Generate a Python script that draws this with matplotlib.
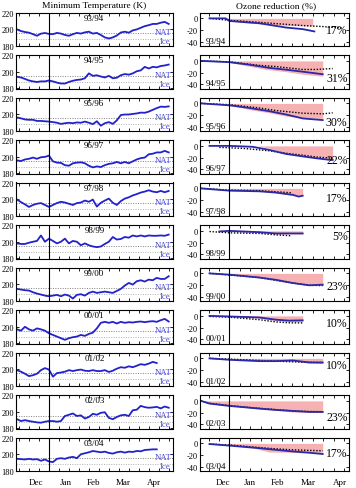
import numpy as np
import matplotlib
matplotlib.use("Agg")
import matplotlib.pyplot as plt

plt.rcParams['font.family'] = ['Liberation Serif', 'DejaVu Serif']
plt.rcParams['axes.unicode_minus'] = False

nan = np.nan

# Winters and ozone loss labels
winters = ['93/94', '94/95', '95/96', '96/97', '97/98', '98/99',
           '99/00', '00/01', '01/02', '02/03', '03/04']
ozone_loss = ['17%', '31%', '30%', '22%', '17%', '5%',
              '23%', '10%', '10%', '23%', '17%']

months = ['Dec', 'Jan', 'Feb', 'Mar', 'Apr']

# Minimum temperature (K), days relative to 1 Jan, 4 day steps
temp_days = np.arange(-32, 124, 4)
temp_min = [
    [199.8, 197.8, 196.6, 195.8, 194.0, 192.0, 194.6, 195.4, 194.3, 194.0, 195.5, 194.7, 193.0,
     192.0, 194.0, 195.5, 194.7, 196.2, 197.0, 194.7, 195.5, 193.0, 190.0, 188.7, 190.0, 192.3,
     196.0, 197.0, 195.8, 198.6, 199.8, 201.8, 203.8, 205.0, 206.5, 206.5, 208.0, 209.0, 206.5],
    [193.8, 193.0, 191.2, 189.3, 188.2, 187.5, 188.2, 188.2, 189.3, 188.2, 186.7, 185.6, 185.6,
     187.5, 189.0, 190.0, 190.5, 192.0, 198.0, 195.0, 195.7, 194.2, 193.0, 195.0, 192.0, 192.7,
     195.7, 197.2, 196.4, 198.0, 200.6, 201.7, 206.0, 204.0, 206.0, 205.4, 207.0, 207.7, 208.8],
    [196.0, 195.0, 193.6, 193.2, 193.2, 191.8, 191.8, 191.4, 191.0, 190.4, 189.6, 188.2, 189.0,
     189.6, 189.0, 190.0, 189.6, 191.0, 189.6, 187.9, 191.4, 186.0, 189.0, 190.4, 188.2, 192.5,
     199.0, 199.7, 199.7, 200.4, 201.0, 202.0, 201.8, 203.2, 205.4, 207.5, 209.3, 209.0, 209.6],
    [195.5, 194.8, 196.7, 197.5, 199.0, 197.5, 199.4, 199.8, 201.4, 194.4, 192.8, 192.5, 189.7,
     189.0, 192.0, 192.8, 193.2, 192.0, 189.0, 187.0, 188.2, 187.4, 189.7, 191.3, 192.0, 193.6,
     192.0, 193.6, 192.0, 194.4, 196.7, 198.3, 199.0, 203.0, 203.7, 205.3, 205.3, 207.2, 205.3],
    [199.6, 196.5, 193.7, 190.6, 193.0, 194.5, 195.3, 193.0, 190.6, 193.0, 195.3, 196.9, 196.0,
     194.5, 193.0, 195.3, 196.0, 198.4, 196.9, 199.6, 191.0, 195.7, 198.4, 200.8, 195.7, 193.0,
     197.7, 200.8, 202.4, 204.7, 206.3, 208.2, 209.4, 211.0, 209.4, 208.6, 210.2, 208.6, 210.2],
    [198.0, 197.3, 197.3, 198.8, 200.0, 201.0, 207.7, 200.0, 203.8, 201.0, 198.0, 200.0, 203.8,
     198.0, 201.0, 200.0, 195.7, 198.0, 195.7, 194.2, 193.4, 194.2, 197.3, 200.0, 205.8, 202.7,
     203.4, 205.8, 205.0, 207.7, 206.5, 207.7, 206.5, 207.7, 207.3, 207.3, 207.7, 207.3, 208.8],
    [194.3, 193.5, 192.7, 192.3, 190.2, 188.6, 187.4, 186.1, 185.3, 186.1, 187.0, 185.3, 187.4,
     186.1, 182.5, 187.0, 187.8, 186.1, 189.4, 191.0, 189.4, 190.2, 191.0, 190.2, 189.4, 191.8,
     194.3, 198.4, 201.6, 199.6, 203.7, 204.9, 203.3, 205.7, 204.9, 207.8, 206.5, 206.5, 209.8],
    [196.8, 195.2, 200.0, 196.8, 195.2, 198.0, 196.8, 195.2, 192.0, 190.0, 188.0, 186.0, 184.0,
     186.0, 187.2, 188.0, 190.0, 188.8, 191.2, 192.8, 198.0, 204.8, 206.0, 204.8, 206.0, 204.0,
     206.0, 204.8, 205.6, 205.2, 206.0, 206.4, 205.6, 206.4, 206.8, 206.0, 208.0, 209.6, 206.4],
    [198.9, 197.0, 194.5, 191.6, 192.7, 194.5, 198.9, 201.4, 199.6, 190.9, 195.3, 196.0, 197.0,
     198.9, 197.8, 198.9, 199.6, 198.2, 197.8, 198.9, 197.8, 197.8, 198.9, 196.7, 198.2, 200.7,
     202.5, 201.8, 203.6, 202.5, 204.3, 206.2, 205.4, 206.9, 209.0, 207.6, nan, nan, nan],
    [190.9, 188.6, 189.7, 188.6, 187.8, 187.0, 186.6, 187.8, 188.6, 188.6, 187.8, 188.6, 194.8,
     196.3, 197.9, 194.8, 195.6, 191.7, 193.6, 197.5, 196.3, 198.7, 199.4, 192.5, 190.9, 193.6,
     195.6, 196.3, 194.8, 201.8, 202.5, 207.2, 205.6, 204.9, 205.3, 206.0, 204.1, 206.4, 204.9],
    [194.4, 194.0, 193.6, 194.4, 193.6, 194.0, 192.0, 193.6, 191.2, 190.4, 194.4, 195.2, 194.4,
     196.0, 196.8, 195.2, 200.0, 201.2, 202.4, 204.0, 203.2, 202.4, 203.2, 201.6, 200.8, 202.4,
     203.2, 202.0, 203.2, 202.8, 204.0, 203.6, 205.2, 205.6, 206.0, 206.0, nan, nan, nan],
]
nat_temp = 195
ice_temp = 188

# Ozone reduction (%): solid line
o3_days = [
    [-21, -4, 0, 31.5, 49, 59.6, 77.2, 89.5],
    [-30, 0, 21, 42, 59.6, 77.2, 98.3],
    [-30, 0, 21, 42, 59.6, 77.2, 98.3],
    [-21, 0, 24.5, 42, 59.6, 77.2, 91.2, 105.3, 108.8],
    [-30, 0, 31.5, 49, 66.7, 73, 77.2],
    [-10.7, 0, 31.5, 49, 77.2],
    [-21, 0, 31.5, 49, 66.7, 84.2, 98.3],
    [-21, 0, 31.5, 49, 63, 77.2],
    [-21, 0, 31.5, 49, 66.7, 84.2, 98.3],
    [-30, -21, 0, 31.5, 49, 66.7, 84.2, 98.3],
    [-21, 0, 31.5, 49, 66.7, 84.2, 98.3],
]
o3_red = [
    [0, 0, -4.4, -8.3, -12.8, -15.6, -18.3, -22.2],
    [0, -2.2, -6.5, -11.9, -15, -18.4, -22.7],
    [0, -3.3, -7.8, -13.3, -18.9, -25.6, -28.4],
    [0, 0, -1.6, -6.8, -13.7, -17.9, -21, -23.7, -24],
    [0, -3.9, -5, -7.2, -11, -14, -12.5],
    [-1, 0, -2.2, -4.4, -4.4],
    [0, -2.2, -7.1, -11, -16.4, -20.3, -19.2],
    [0, -1, -2.7, -6.5, -8.1, -7.6],
    [0, -2.4, -4.7, -4.7, -3.5, -7, -7],
    [0, -4.6, -8.6, -13.1, -15.4, -17.1, -18.8, -18.8],
    [-1.1, -3.8, -8.2, -11, -13.7, -15.9, -18.1],
]

# dotted line
ref_days = [
    [-21, 0, 31.5, 49, 77.2, 98.3, 119.4],
    [-30, 0, 31.5, 49, 77.2, 91.2, 108.8],
    [-30, 0, 31.5, 49, 77.2, 98.3, 108.8],
    [-10.7, 14, 42, 59.6, 77.2, 91.2, 108.8],
    [-30, 0, 31.5, 65],
    [-21, 0, 31.5, 49, 65],
    [-21, 0, 31.5, 49, 66.7, 84.2, 98.3],
    [-21, 0, 31.5, 49, 65, 77.2],
    [-21, 0, 31.5, 49, 66.7, 98.3],
    [-30, -21, 0, 31.5, 49, 66.7, 84.2, 98.3],
    [-21, 0, 31.5, 49, 66.7, 98.3],
]
ref_red = [
    [0, -3.3, -6.7, -8.9, -12.2, -13.9, -16.7],
    [0, -1.6, -7.6, -9.7, -14.6, -14.6, -13],
    [0, -2.2, -7.8, -12.2, -16.7, -17.8, -16.1],
    [-2.6, -4.2, -8.4, -12.6, -15.8, -18.9, -21],
    [0, -2.8, -3.9, -7.5],
    [-1.1, -3.3, -4.4, -6.7, -8.3],
    [0, -2.7, -7.1, -12, -16.4, -20.3, -20.8],
    [-1, -2.2, -6.5, -10.3, -11.9, -11.9],
    [0, -1.2, -3.5, -4.7, -5.9, -7],
    [0, -4, -8, -12.6, -14.8, -17.1, -18, -18.3],
    [-1.1, -2.7, -7.1, -9.3, -11, -12.6],
]

# shaded range (lower edge, upper edge is 0)
band_days = [
    [-3.6, 20, 40, 60, 87.8],
    [0, 21, 38.5, 59.6, 77.2, 98.3],
    [0, 21, 42, 59.6, 77.2, 98.3],
    [29.8, 42, 59.6, 77.2, 94.7, 108.8],
    [0, 31.5, 49, 66.7, 77.2],
    [0, 31.5, 49, 77.2],
    [0, 31.5, 49, 66.7, 84.2, 98.3],
    [0, 31.5, 49, 65, 77.2],
    [0, 31.5, 49, 66.7, 84.2, 98.3],
    [-30, -21, 0, 31.5, 49, 66.7, 98.3],
    [0, 21, 42, 59.6, 77.2, 98.3],
]
band_low = [
    [-4, -8, -10, -12, -13],
    [-2.7, -9.2, -14.6, -18.4, -22.7, -26],
    [-3, -10.6, -16, -21.7, -24.5, -25.6],
    [0, -4, -12, -17.4, -20, -22.6],
    [-1.7, -3.9, -7.2, -12.2, -12],
    [-1, -3, -5, -5],
    [-2, -5.5, -10, -15.3, -19, -20],
    [-1, -4, -8, -10, -10],
    [-1, -3, -4, -5, -8, -9],
    [0, -4, -8, -14, -16, -19, -20],
    [-2, -6, -14.8, -15, -16, -15],
]

# layout (pixels)
W, H = 356, 489
top0, pitch, ph = 13.5, 42.5, 33.5
pct_text_y = [-20.5, -29, -31.5, -23.5, -17, -8, -22, -12, -11, -27, -16.5]
month_pos_left = [-13, 17, 45, 74, 105]
month_pos_right = [-7, 21, 51, 83, 117]

fig = plt.figure(figsize=(W / 100, H / 100), dpi=100)

blue = '#2222cc'
navy = '#2828a8'
pink = '#f6b2b2'

for i, w in enumerate(winters):
    top = top0 + pitch * i
    b = 1 - (top + ph) / H
    axl = fig.add_axes([16 / W, b, 156.7 / W, ph / H])
    axr = fig.add_axes([200 / W, b, 149 / W, ph / H])

    # Temperature panel
    axl.axhline(nat_temp, color='#808080', ls=(0, (1, 1.5)), lw=0.7)
    axl.axhline(ice_temp, color='#b0b0b0', ls=(0, (1, 1.5)), lw=0.7)
    axl.plot(temp_days, temp_min[i], color=blue, lw=1.3)
    axl.axvline(0, color='k', lw=0.8)
    axl.set_xlim(-33, 124)
    axl.set_ylim(179.5, 220.5)
    axl.set_yticks([180, 200, 220])
    axl.set_xticks(np.arange(-30, 121, 10))
    axl.tick_params(direction='in', top=True, right=True, length=2.5, width=0.6,
                    labelsize=6, pad=1.5, labelbottom=False)
    axl.text(0.5, 0.85, w, transform=axl.transAxes, ha='center', va='center', fontsize=6.5)
    axl.text(0.995, nat_temp + 1.5, 'NAT', ha='right', va='center', fontsize=6.3,
             color='#4a4ad6', transform=axl.get_yaxis_transform())
    axl.text(0.985, ice_temp - 2.5, 'Ice', ha='right', va='center', fontsize=6.3,
             color='#4a4ad6', transform=axl.get_yaxis_transform())

    # Ozone panel
    axr.fill_between(band_days[i], 0, band_low[i], color=pink, lw=0)
    axr.plot(ref_days[i], ref_red[i], color='k', ls=(0, (1, 1.2)), lw=1.0)
    axr.plot(o3_days[i], o3_red[i], color=navy, lw=1.3)
    axr.axvline(0, color='k', lw=0.8)
    axr.set_xlim(-31, 126)
    axr.set_ylim(-47, 10)
    axr.set_yticks([0, -20, -40])
    axr.set_xticks(np.arange(-22, 126, 11))
    axr.tick_params(direction='in', top=True, right=True, length=2.5, width=0.6,
                    labelsize=6, pad=1.5, labelbottom=False)
    axr.text(0.04, 0.16, w, transform=axr.transAxes, ha='left', va='center', fontsize=6.5)
    axr.text(0.99, pct_text_y[i], ozone_loss[i], ha='right', va='center', fontsize=8.5,
             transform=axr.get_yaxis_transform())

    for ax in (axl, axr):
        for s in ax.spines.values():
            s.set_linewidth(0.8)

    if i == len(winters) - 1:
        axl.set_xticks(month_pos_left, months, minor=True)
        axr.set_xticks(month_pos_right, months, minor=True)
        for ax in (axl, axr):
            ax.tick_params(which='minor', length=0, labelsize=6.5, pad=5)

fig.text(94 / W, 1 - 6 / H, 'Minimum Temperature (K)', ha='center', va='center', fontsize=6.8)
fig.text(276 / W, 1 - 6 / H, 'Ozone reduction (%)', ha='center', va='center', fontsize=6.8)

fig.savefig('out.png', dpi=100)
